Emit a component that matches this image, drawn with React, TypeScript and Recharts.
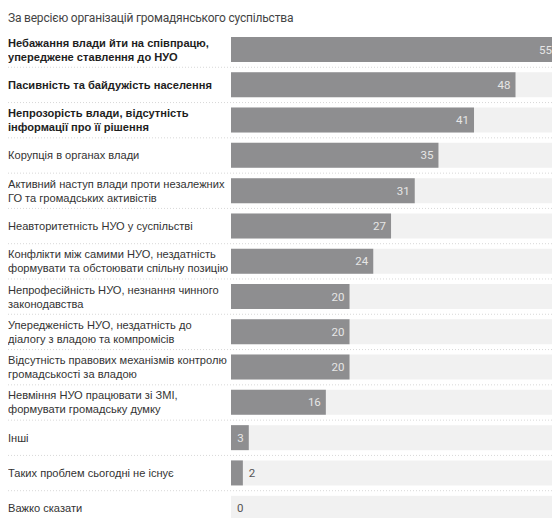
import { BarChart, Bar, XAxis, YAxis, LabelList } from "recharts";

const problems = [
  "Небажання влади йти на співпрацю,\nупереджене ставлення до НУО",
  "Пасивність та байдужість населення",
  "Непрозорість влади, відсутність\nінформації про її рішення",
  "Корупція в органах влади",
  "Активний наступ влади проти незалежних\nГО та громадських активістів",
  "Неавторитетність НУО у суспільстві",
  "Конфлікти між самими НУО, нездатність\nформувати та обстоювати спільну позицію",
  "Непрофесійність НУО, незнання чинного\nзаконодавства",
  "Упередженість НУО, нездатність до\nдіалогу з владою та компромісів",
  "Відсутність правових механізмів контролю\nгромадськості за владою",
  "Невміння НУО працювати зі ЗМІ,\nформувати громадську думку",
  "Інші",
  "Таких проблем сьогодні не існує",
  "Важко сказати",
];
const shares = [55, 48, 41, 35, 31, 27, 24, 20, 20, 20, 16, 3, 2, 0];
const boldRows = 3;

const data = problems.map((name, i) => ({ name, value: shares[i] }));

const CHART_W = 549;
const CHART_H = 518;
const AXIS_W = 223;
const ROW = 35.25;
const BAR = 25;
const TRACK = "#f1f1f1";

// category labels + dotted separator. Recharts skips zero-width bars
// (background and label too), so those rows get their track and "0" here.
function ProblemTick({ y, payload, index }: any) {
  const lines = String(payload.value).split("\n");
  const bold = index < boldRows;
  const lh = 14;
  const start = -((lines.length - 1) * lh) / 2;
  const v = shares[index];
  return (
    <g>
      {v === 0 && (
        <>
          <rect x={AXIS_W} y={y - BAR / 2} width={CHART_W - AXIS_W} height={BAR} fill={TRACK} />
          <text
            x={AXIS_W + 6}
            y={y}
            dy="0.36em"
            fontSize={11.5}
            fontFamily="Roboto, Liberation Sans, sans-serif"
            fill="#555"
          >
            {v}
          </text>
        </>
      )}
      <text
        x={0}
        y={y}
        fontSize={11.1}
        fontFamily="Liberation Sans, Arial, sans-serif"
        fontWeight={bold ? 700 : 400}
        fill={bold ? "#1e1e1e" : "#333"}
      >
        {lines.map((l, i) => (
          <tspan key={i} x={0} y={y + start + i * lh} dy="0.36em">
            {l}
          </tspan>
        ))}
      </text>
      <line
        x1={0}
        x2={CHART_W}
        y1={y + ROW / 2}
        y2={y + ROW / 2}
        stroke="#d8d8d8"
        strokeDasharray="1 2"
      />
    </g>
  );
}

function ValueLabel({ x, y, width, height, value }: any) {
  const inside = value >= 3;
  return (
    <text
      x={inside ? x + width - 5 : x + width + 6}
      y={y + height / 2}
      dy="0.36em"
      textAnchor={inside ? "end" : "start"}
      fontSize={11.5}
      fontFamily="Roboto, Liberation Sans, sans-serif"
      fill={inside ? "#e6e6e6" : "#555"}
    >
      {value}
    </text>
  );
}

export default function App() {
  return (
    <div
      style={{
        position: "relative",
        width: 552,
        height: 518,
        overflow: "hidden",
        background: "#fff",
        fontFamily: "Roboto, Liberation Sans, sans-serif",
      }}
    >
      <style>{"body{margin:0}"}</style>
      <div
        style={{
          position: "absolute",
          top: 11,
          left: 8,
          fontSize: 12,
          letterSpacing: -0.2,
          color: "#444",
          whiteSpace: "nowrap",
        }}
      >
        За версією організацій громадянського суспільства
      </div>
      <div style={{ position: "absolute", top: 8, left: 8 }}>
        <BarChart
          width={CHART_W}
          height={CHART_H}
          data={data}
          layout="vertical"
          margin={{ top: 24, right: 0, bottom: 0, left: 0 }}
          barCategoryGap={0}
        >
          <XAxis type="number" domain={[0, 55]} hide />
          <YAxis
            type="category"
            dataKey="name"
            width={AXIS_W}
            axisLine={false}
            tickLine={false}
            interval={0}
            tick={<ProblemTick />}
          />
          <Bar
            dataKey="value"
            fill="#8e8e90"
            barSize={BAR}
            background={{ fill: TRACK }}
            isAnimationActive={false}
          >
            <LabelList dataKey="value" content={<ValueLabel />} />
          </Bar>
        </BarChart>
      </div>
    </div>
  );
}
